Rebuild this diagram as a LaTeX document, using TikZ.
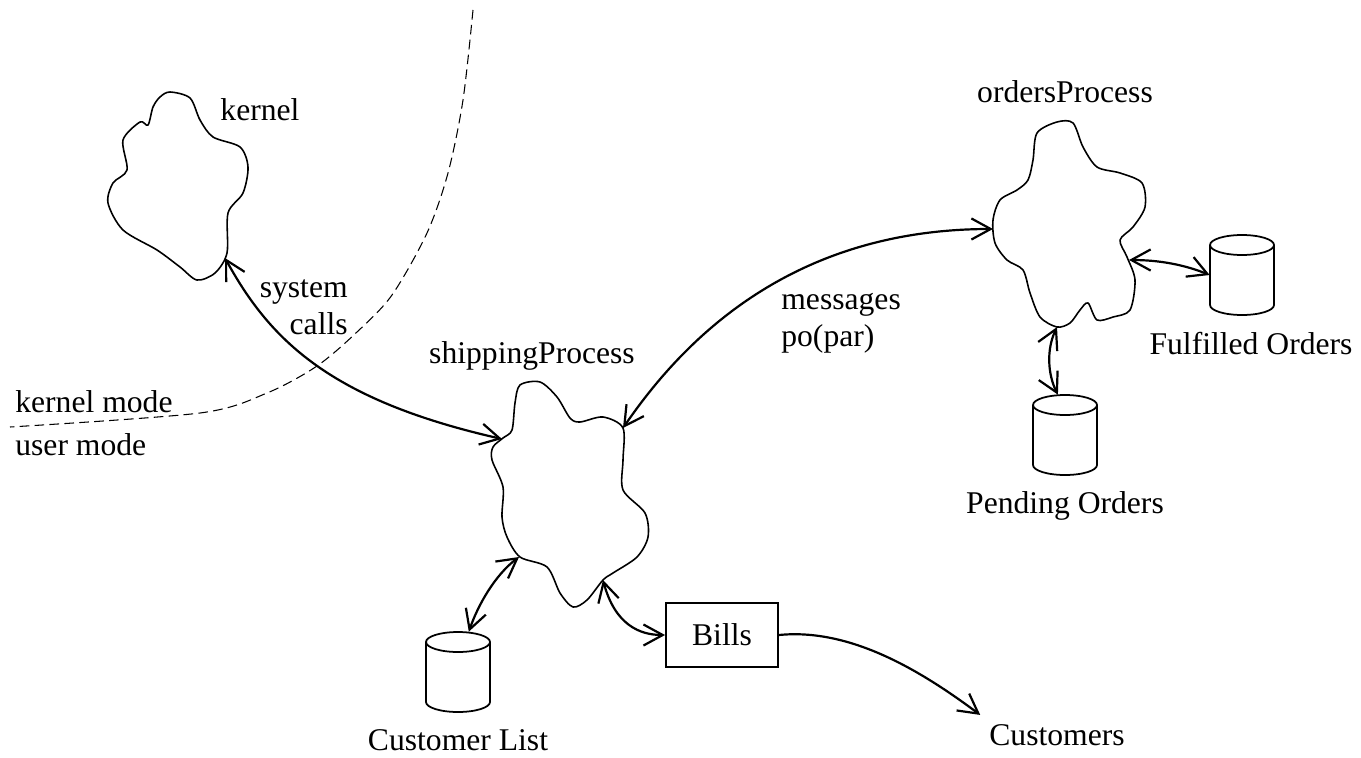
\documentclass[tikz,border=0pt]{standalone}
\usepackage{fontspec}
\setmainfont{Liberation Serif}
\usetikzlibrary{arrows.meta, positioning}
\tikzset{
    font=\fontsize{18}{21}\selectfont,
    % 进程云
    cloudLine/.style={line width=0.9pt, line join=round},
    % 数据存储 (只占位, 轮廓另画)
    storeNode/.style={rectangle, minimum width=1.28cm, minimum height=1.6cm, inner sep=0pt},
    storeLine/.style={line width=1pt},
    % 外部实体
    boxNode/.style={
        rectangle, draw, line width=1.1pt,
        minimum width=2.24cm, minimum height=1.28cm, inner sep=0pt
    },
    % 文字
    textNode/.style={inner sep=0pt},
    % 箭头
    conn/.style={>={Straight Barb[length=11pt,width=12pt]}, line width=1.25pt},
    % 模式分界
    modeLine/.style={dash pattern=on 5.5pt off 3pt, line width=0.6pt}
}
% 圆柱: 名字, x, y
\newcommand{\dbStore}[3]{
    \node[storeNode] (#1) at (#2,#3) {};
    \draw[storeLine] (#2,#3) ++(0,-30) ellipse[x radius=32, y radius=10];
    \draw[storeLine] (#2,#3) ++(-32,-30) -- ++(0,60)
        arc[start angle=180, end angle=0, x radius=32, y radius=10] -- ++(0,-60);
}

\begin{document}
\begin{tikzpicture}[x=0.02cm, y=-0.02cm]
	\useasboundingbox (0,0) rectangle (1361,757);

	% 1. 模式分界线
	\draw[modeLine] plot[smooth] coordinates {(473,10) (463,100) (448,173) (427,233) (392,295) (357,332) (317,366) (267,393) (200,413) (10,427)};
	\node[textNode, anchor=base west] (kmode) at (15,412) {kernel mode};
	\node[textNode, anchor=base west] (umode) at (15,455) {user mode};

	% 2. 进程
	% kernel
	\draw[cloudLine] plot[smooth cycle] coordinates {(160,97) (170,92) (190,98) (200,120) (213,137) (240,147) (248,167) (243,193) (228,213) (227,253) (215,273) (197,280) (180,267) (157,250) (123,230) (108,203) (113,183) (127,170) (123,140) (140,122) (148,125) (153,107)};
	\coordinate (kernel) at (178,186);
	\coordinate (kernel-s) at (225,258);
	\node[textNode, anchor=base] (kernelLbl) at (260,120) {kernel};

	% shippingProcess
	\draw[cloudLine] plot[smooth cycle] coordinates {(520,385) (540,382) (557,397) (570,418) (580,422) (603,417) (623,428) (623,460) (623,490) (645,513) (648,537) (637,557) (613,573) (603,580) (587,600) (573,607) (560,593) (547,567) (520,557) (507,537) (502,517) (503,487) (492,460) (493,447) (503,438) (512,430) (515,403)};
	\coordinate (ship) at (570,494);
	\coordinate (ship-w) at (502,439);
	\coordinate (ship-ne) at (623,428);
	\coordinate (ship-sw) at (519,557);
	\coordinate (ship-se) at (603,580);
	\node[textNode, anchor=base] (shipLbl) at (532,363) {shippingProcess};

	% ordersProcess
	\draw[cloudLine] plot[smooth cycle] coordinates {(1037,133) (1057,122) (1073,123) (1083,147) (1097,167) (1120,173) (1142,183) (1145,207) (1133,227) (1120,240) (1127,257) (1135,280) (1130,310) (1113,317) (1097,320) (1088,303) (1080,310) (1070,323) (1057,327) (1040,317) (1030,293) (1023,270) (1007,260) (995,243) (993,220) (1000,200) (1017,190) (1028,180) (1033,160)};
	\coordinate (orders) at (1069,225);
	\coordinate (orders-w) at (993,229);
	\coordinate (orders-e) at (1129,260);
	\coordinate (orders-s) at (1057,327);
	\node[textNode, anchor=base] (ordersLbl) at (1065,103) {ordersProcess};

	% 3. 数据存储与实体
	\dbStore{custlist}{458}{672}
	\node[textNode, below=0.33cm of custlist] (custlistLbl) {Customer List};

	\dbStore{pending}{1065}{435}
	\node[textNode, below=0.32cm of pending] (pendingLbl) {Pending Orders};

	\dbStore{fulfilled}{1242}{275}
	\node[textNode, below=0.34cm of fulfilled, xshift=0.18cm] (fulfilledLbl) {Fulfilled Orders};

	\node[boxNode] (bills) at (722,635) {Bills};
	\node[textNode, inner sep=5pt, anchor=base] (customers) at (1057,745) {Customers};

	% 4. 连线
	\draw[conn, <->] (kernel-s) .. controls (270,340) and (330,400) .. (ship-w);
	\node[textNode, align=right, anchor=north east] (syscallLbl) at (348,279) {system\\calls};

	\draw[conn, <->] (ship-ne) .. controls (690,330) and (800,229) .. (orders-w);
	\node[textNode, align=left, anchor=north west] (msgLbl) at (781,293) {messages\\po(par)};

	\draw[conn, <->] (orders-e) .. controls (1160,260) and (1185,265) .. (fulfilled.west);
	\draw[conn, <->] (orders-s) .. controls (1046,350) and (1048,375) .. (pending.100);

	\draw[conn, <->] (ship-sw) .. controls (495,575) and (478,605) .. (custlist.75);
	\draw[conn, <->] (ship-se) .. controls (615,625) and (640,635) .. (bills.west);
	\draw[conn, ->] (bills.east) .. controls (850,628) and (920,670) .. (customers.north west);

\end{tikzpicture}
\end{document}
